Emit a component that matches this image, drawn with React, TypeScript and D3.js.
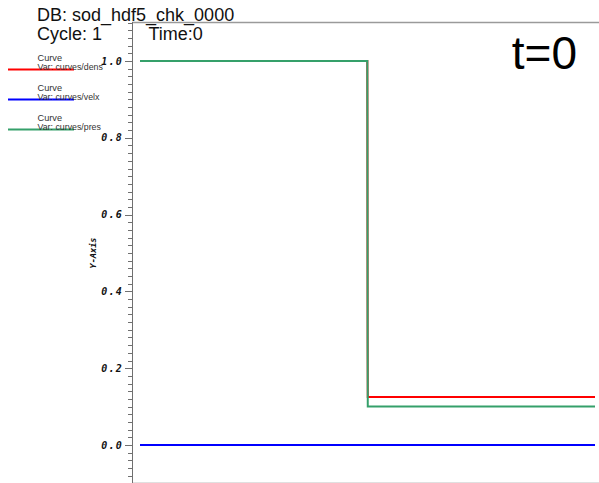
import React, { useEffect, useRef } from 'react';
import * as d3 from 'd3';

// 曲線データ (x: 位置, y: 値) — 画像から読み取った値
const densPoints: [number, number][] = [
  [0, 1.0], [0.4996, 1.0], [0.4998, 0.856], [0.5, 0.562], [0.5003, 0.27], [0.5006, 0.125], [1, 0.125],
];
const velxPoints: [number, number][] = [
  [0, 0.0], [1, 0.0],
];
const presPoints: [number, number][] = [
  [0, 1.0], [0.4996, 1.0], [0.4998, 0.856], [0.5001, 0.55], [0.5003, 0.25], [0.5006, 0.1], [1, 0.1],
];

const seriesNames = ['curves/dens', 'curves/velx', 'curves/pres'];
const seriesColors = ['#ff0000', '#0000ff', '#35a06a'];
const yTicks = [0.0, 0.2, 0.4, 0.6, 0.8, 1.0];

const dbName = 'DB: sod_hdf5_chk_0000';
const cycleText = 'Cycle: 1';
const timeText = 'Time:0';
const stampText = 't=0';

const W = 599;
const H = 483;

const App = () => {
  const svgRef = useRef<SVGSVGElement>(null);

  useEffect(() => {
    const svg = d3.select(svgRef.current);
    svg.selectAll('*').remove();

    const sans = "'Liberation Sans', Arial, sans-serif";
    const mono = "'DejaVu Sans Mono', 'Liberation Mono', monospace";

    // スケール
    const x = d3.scaleLinear().domain([0, 1]).range([140, 595]);
    const y = d3.scaleLinear().domain([-0.1, 1.1]).range([483.4, 22.6]);
    const axisX = 132;

    // 枠線
    svg.append('line')
      .attr('x1', axisX).attr('x2', W).attr('y1', 22.5).attr('y2', 22.5)
      .attr('stroke', '#9a9a9a').attr('stroke-width', 1.5);
    svg.append('line')
      .attr('x1', axisX).attr('x2', W).attr('y1', 482.5).attr('y2', 482.5)
      .attr('stroke', '#e0e0e0').attr('stroke-width', 1);
    svg.append('line')
      .attr('x1', axisX + 0.5).attr('x2', axisX + 0.5).attr('y1', 22).attr('y2', H)
      .attr('stroke', '#707070').attr('stroke-width', 1);

    // 目盛り (0.02 刻みの補助目盛り)
    const minor = d3.range(-5, 56).map(i => i * 0.02);
    svg.append('g').selectAll('line')
      .data(minor)
      .enter()
      .append('line')
      .attr('x1', d => (Math.abs(Math.round(d * 10) - d * 10) < 1e-6 && Math.round(d * 10) % 2 === 0 ? axisX - 7 : axisX - 4))
      .attr('x2', axisX)
      .attr('y1', d => Math.round(y(d)) + 0.5)
      .attr('y2', d => Math.round(y(d)) + 0.5)
      .attr('stroke', '#707070')
      .attr('stroke-width', 1);

    // 目盛りラベル
    svg.append('g').selectAll('text')
      .data(yTicks)
      .enter()
      .append('text')
      .attr('x', axisX - 9)
      .attr('y', d => y(d) + 3.5)
      .attr('text-anchor', 'end')
      .style('font-family', mono)
      .style('font-size', '10px')
      .style('font-weight', 'bold')
      .style('font-style', 'italic')
      .style('letter-spacing', '1.2px')
      .attr('fill', '#111')
      .text(d => d.toFixed(1));

    // 軸タイトル
    svg.append('text')
      .attr('transform', `translate(96, ${y(0.5)}) rotate(-90)`)
      .attr('text-anchor', 'middle')
      .style('font-family', mono)
      .style('font-size', '8.6px')
      .style('font-weight', 'bold')
      .style('font-style', 'italic')
      .attr('fill', '#111')
      .text('Y-Axis');

    // 曲線
    const line = d3.line<[number, number]>()
      .x(d => x(d[0]))
      .y(d => y(d[1]));
    const allSeries = [densPoints, velxPoints, presPoints];
    allSeries.forEach((pts, i) => {
      svg.append('path')
        .datum(pts)
        .attr('d', line)
        .attr('fill', 'none')
        .attr('stroke', seriesColors[i])
        .attr('stroke-width', 2);
    });

    // 凡例
    seriesNames.forEach((name, i) => {
      const g = svg.append('g').attr('transform', `translate(0, ${i * 30})`);
      g.append('text')
        .attr('x', 37.5).attr('y', 61)
        .style('font-family', sans).style('font-size', '9.2px')
        .attr('fill', '#333')
        .text('Curve');
      g.append('line')
        .attr('x1', 8).attr('x2', 74).attr('y1', 69.5).attr('y2', 69.5)
        .attr('stroke', seriesColors[i]).attr('stroke-width', 2);
      g.append('text')
        .attr('x', 37.5).attr('y', 70)
        .style('font-family', sans).style('font-size', '8.8px')
        .attr('fill', '#333')
        .text(`Var: ${name}`);
    });

    // ヘッダー
    svg.append('text')
      .attr('x', 37).attr('y', 21)
      .style('font-family', sans).style('font-size', '18px')
      .attr('fill', '#111')
      .text(dbName);
    svg.append('text')
      .attr('x', 37).attr('y', 39.5)
      .style('font-family', sans).style('font-size', '18px')
      .attr('fill', '#111')
      .text(cycleText);
    svg.append('text')
      .attr('x', 148.5).attr('y', 39.5)
      .style('font-family', sans).style('font-size', '18px')
      .attr('fill', '#111')
      .text(timeText);
    svg.append('text')
      .attr('x', 577).attr('y', 68.5)
      .attr('text-anchor', 'end')
      .style('font-family', sans).style('font-size', '46px')
      .attr('fill', '#000')
      .text(stampText);
  }, []);

  return (
    <svg
      ref={svgRef}
      width={W}
      height={H}
      style={{ position: 'absolute', left: 0, top: 0, background: '#fff' }}
    />
  );
};

export default App;
